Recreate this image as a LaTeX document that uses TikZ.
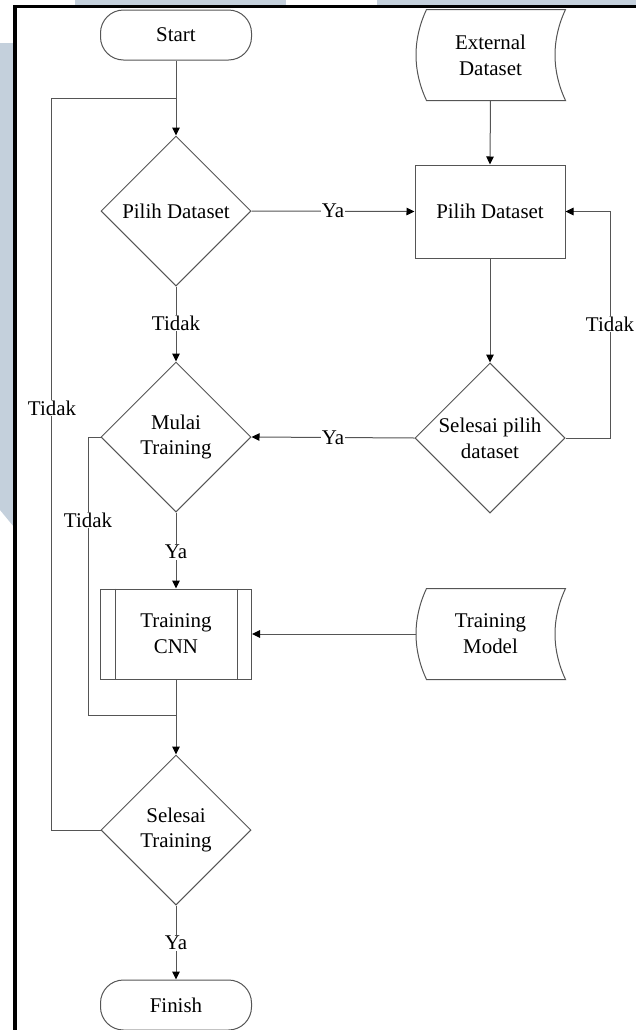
\documentclass[tikz,border=0pt]{standalone}
\usepackage{fontspec}
\setmainfont{Liberation Serif}
\usetikzlibrary{shapes.geometric,arrows.meta,calc}
\definecolor{linegray}{RGB}{85,85,85}
\definecolor{wmblue}{RGB}{196,208,220}
\tikzset{
  base/.style={draw=linegray, line width=1bp, font=\fontsize{21}{26}\selectfont, align=center, inner sep=0pt},
  term/.style={base, rectangle, rounded corners=23bp, minimum width=151bp, minimum height=50bp},
  decide/.style={base, diamond, aspect=1, minimum width=150bp, minimum height=150bp},
  procbox/.style={base, rectangle, minimum width=150bp, minimum height=93bp},
  subproc/.style={base, rectangle, minimum width=151bp, minimum height=90bp},
  storeddata/.style={base, draw=none, rectangle, minimum width=149bp, minimum height=90bp},
  conn/.style={draw=linegray, line width=1bp},
  arr/.style={conn, -{Triangle[length=8bp,width=7.5bp,color=black]}},
  lbl/.style={font=\fontsize{21}{26}\selectfont, fill=white, inner sep=1bp}
}
\newcommand{\storedshape}[1]{%
  \draw[conn] ($(#1.north west)+(11,0)$) -- (#1.north east)
    .. controls ($(#1.north east)+(-14,30)$) and ($(#1.south east)+(-14,-30)$) .. (#1.south east)
    -- ($(#1.south west)+(11,0)$)
    .. controls ($(#1.south west)+(-3,-30)$) and ($(#1.north west)+(-3,30)$) .. ($(#1.north west)+(11,0)$) -- cycle;}
\begin{document}
\begin{tikzpicture}[x=1bp,y=-1bp]
  \useasboundingbox (0,0) rectangle (636,1030);
  % watermark bands behind the frame
  \fill[wmblue] (75,0) rectangle (286,6);
  \fill[wmblue] (377,0) rectangle (636,6);
  \fill[wmblue] (0,43) -- (14,43) -- (14,527) -- (0,510) -- cycle;
  % frame
  \draw[line width=3.8bp, line cap=rect] (15,1032) -- (15,6.5) -- (640,6.5);

  % nodes
  \node[term] (start) at (176,35) {Start};
  \node[decide] (d1) at (176,211) {Pilih Dataset};
  \node[storeddata] (ext) at (490.5,55) {External\\Dataset};
  \storedshape{ext}
  \node[procbox] (pd) at (490,211.5) {Pilih Dataset};
  \node[decide] (d2) at (490,438) {Selesai pilih\\dataset};
  \node[decide] (d3) at (176,437) {Mulai\\Training};
  \node[subproc] (cnn) at (176,634) {Training\\CNN};
  \draw[conn] ($(cnn.north west)+(15,0)$) -- ($(cnn.south west)+(15,0)$);
  \draw[conn] ($(cnn.north east)+(-15,0)$) -- ($(cnn.south east)+(-15,0)$);
  \node[storeddata] (tm) at (490.5,634) {Training\\Model};
  \storedshape{tm}
  \node[decide] (d4) at (176,830) {Selesai\\Training};
  \node[term] (finish) at (176,1005) {Finish};

  \coordinate (j1) at (176,98);
  \coordinate (j2) at (176,715);

  % connectors
  \draw[arr] (start.south) -- (d1.north);
  \draw[conn] (d4.west) -- (51,830) |- (j1);
  \draw[arr] (d1.east) -- (pd.west);
  \draw[arr] (ext.south) -- (pd.north);
  \draw[arr] (pd.south) -- (d2.north);
  \draw[arr] (d2.east) -- ++(45,0) |- (pd.east);
  \draw[arr] (d2.west) -- (d3.east);
  \draw[arr] (d1.south) -- (d3.north);
  \draw[conn] (d3.west) -- ++(-12,0) |- (j2);
  \draw[arr] (d3.south) -- (cnn.north);
  \draw[arr] (tm.west) -- (cnn.east);
  \draw[arr] (cnn.south) -- (d4.north);
  \draw[arr] (d4.south) -- (finish.north);

  % branch labels
  \node[lbl] at (333,211) {Ya};
  \node[lbl] at (176,323) {Tidak};
  \node[lbl] at (610,324) {Tidak};
  \node[lbl] at (333,438) {Ya};
  \node[lbl] at (52,408) {Tidak};
  \node[lbl] at (88,520) {Tidak};
  \node[lbl] at (176,552) {Ya};
  \node[lbl] at (176,943) {Ya};
\end{tikzpicture}
\end{document}
